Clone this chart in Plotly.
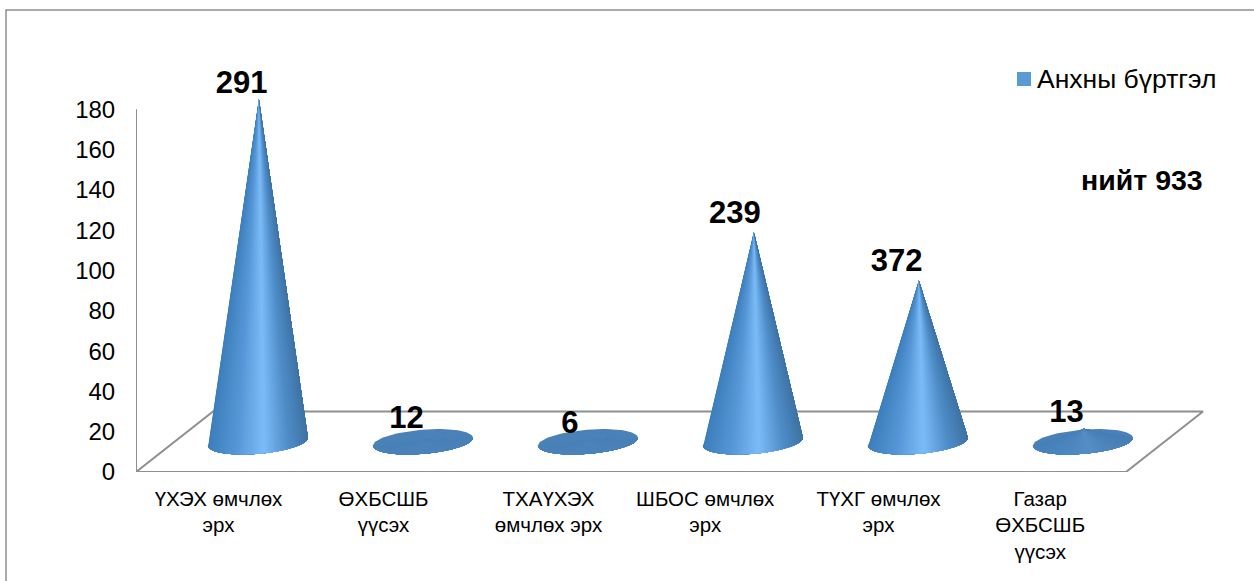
import numpy as np
import plotly.graph_objects as go

categories = ["ҮХЭХ өмчлөх<br>эрх", "ӨХБСШБ<br>үүсэх", "ТХАҮХЭХ<br>өмчлөх эрх",
              "ШБОС өмчлөх<br>эрх", "ТҮХГ өмчлөх<br>эрх", "Газар<br>ӨХБСШБ<br>үүсэх"]
values = [170, 1, 1, 104, 80, 6.5]
data_labels = ["291", "12", "6", "239", "372", "13"]
series_name = "Анхны бүртгэл"
total_label = "нийт 933"
y_ticks = [0, 20, 40, 60, 80, 100, 120, 140, 160, 180]

# chart frame
ML, MR, MT, MB = 136, 50, 69, 109
W, H = 1254, 581
PW, PH = W - ML - MR, H - MT - MB
XMIN, XMAX = -0.5, 5.973
YMAX = 200
GRID = "#8f8f8f"
# 3-D look
DEPTH_X, DEPTH_Y = 0.467, 30
BASE_X, BASE_Y = 0.239, 15
RX, RY, TILT = 0.303, 6.0, 2.0
N = 60
STOPS = [(0, (0x3d, 0x7f, 0xbc)), (.3, (0x58, 0x98, 0xd8)), (.56, (0x7c, 0xbc, 0xf8)),
         (.8, (0x50, 0x8e, 0xca)), (1, (0x3f, 0x74, 0xa5))]
FLAT = (0x4a, 0x82, 0xb8)
# label placement relative to category / cone tip
LABEL_DX = [0.14, 0.14, 0.13, 0.13, 0.11, 0.14]
LABEL_DY = [7.0, 9.5, 7.0, 8.5, 8.5, 7.0]
TICK_SHIFT = [0, 0, 0, -0.05, 0, -0.02]


def shade(u, h):
    px = [s[0] for s in STOPS]
    c = np.array([np.interp(u, px, [s[1][k] for s in STOPS]) for k in range(3)])
    w = min(1.0, h / 30)
    c = w * c + (1 - w) * np.array(FLAT)
    return "rgb(%d,%d,%d)" % tuple(c)


def rim(cx, t):
    return cx + RX * np.cos(t), BASE_Y + RY * np.sin(t) + TILT * np.cos(t)


fig = go.Figure()

# walls and floor of the 3-D chart
fig.add_trace(go.Scatter(
    x=[XMIN, XMIN, XMIN + 6, XMIN + 6 + DEPTH_X, XMIN + DEPTH_X, XMIN],
    y=[180, 0, 0, DEPTH_Y, DEPTH_Y, 0],
    mode="lines", line=dict(color=GRID, width=2), showlegend=False, hoverinfo="skip"))

# cones: nested fans from the left edge to the right edge, so no seams show
for i, v in enumerate(values):
    cx = i + BASE_X
    tt = np.linspace(0, 2 * np.pi, 80)
    ex, ey = rim(cx, tt)
    fig.add_trace(go.Scatter(x=ex, y=ey, mode="lines", fill="toself",
                             fillcolor="rgb(74,130,184)", line=dict(width=0),
                             showlegend=False, hoverinfo="skip"))
    edges = np.linspace(np.pi, 2 * np.pi, N + 1)
    ax, ay = cx + 0.006, BASE_Y + v
    for a in edges[:-1]:
        ta = np.linspace(a, 2 * np.pi, 40)
        sx, sy = rim(cx, ta)
        u = (1 - np.cos(a + (edges[1] - edges[0]) / 2 - np.pi)) / 2
        col = shade(u, v)
        fig.add_trace(go.Scatter(x=[ax, *sx, ax], y=[ay, *sy, ay], mode="lines", fill="toself",
                                 fillcolor=col, line=dict(width=0),
                                 showlegend=False, hoverinfo="skip"))

# data labels
label_x = [i + dx for i, dx in enumerate(LABEL_DX)]
label_y = [BASE_Y + v + dy for v, dy in zip(values, LABEL_DY)]
fig.add_trace(go.Scatter(x=label_x, y=label_y, mode="text", text=data_labels,
                         textposition="middle center", cliponaxis=False,
                         textfont=dict(family="Liberation Sans", size=31, color="black",
                                       weight="bold"),
                         showlegend=False, hoverinfo="skip"))

# legend entry (its swatch is placed just beside the text by a shape, below)
fig.add_trace(go.Scatter(x=[None], y=[None], mode="markers", name=series_name,
                         marker=dict(symbol="square", size=14, color="rgba(0,0,0,0)")))

fig.update_layout(
    width=W, height=H,
    margin=dict(l=ML, r=MR, t=MT, b=MB, autoexpand=False),
    paper_bgcolor="white", plot_bgcolor="white",
    font=dict(family="Liberation Sans", color="black"),
    xaxis=dict(range=[XMIN, XMAX],
               tickvals=[i + s for i, s in enumerate(TICK_SHIFT)], ticktext=categories,
               tickangle=0, showgrid=False, zeroline=False, showline=False,
               ticks="outside", ticklen=8, tickcolor="rgba(0,0,0,0)",
               tickfont=dict(size=20.5, color="black")),
    yaxis=dict(range=[0, YMAX], tickvals=y_ticks, showgrid=False, zeroline=False, showline=False,
               ticks="outside", ticklen=15, tickcolor="rgba(0,0,0,0)",
               tickfont=dict(size=24, color="black")),
    legend=dict(x=(997 - ML) / PW, y=(H - MB - 54) / PH, xanchor="left", yanchor="top",
                font=dict(size=26.5, color="black"), bgcolor="rgba(0,0,0,0)",
                itemsizing="constant", itemwidth=30),
    shapes=[dict(type="rect", xref="paper", yref="paper",
                 x0=(6 - ML) / PW, x1=1.2, y0=-0.5, y1=(H - MB - 10) / PH,
                 line=dict(color=GRID, width=1.5), layer="below"),
            dict(type="rect", xref="paper", yref="paper",
                 x0=(1017 - ML) / PW, x1=(1031 - ML) / PW,
                 y0=(H - MB - 86) / PH, y1=(H - MB - 72) / PH,
                 fillcolor="#5b9bd5", line=dict(width=0))],
    annotations=[dict(text="<b>%s</b>" % total_label, xref="paper", yref="paper",
                      x=(1142 - ML) / PW, y=(H - MB - 180) / PH, showarrow=False,
                      xanchor="center", yanchor="middle",
                      font=dict(size=28.5, color="black"))],
)

fig.write_html("out.html", config={"displayModeBar": False},
               post_script="document.body.style.margin='0';document.documentElement.style.overflow='hidden';")
